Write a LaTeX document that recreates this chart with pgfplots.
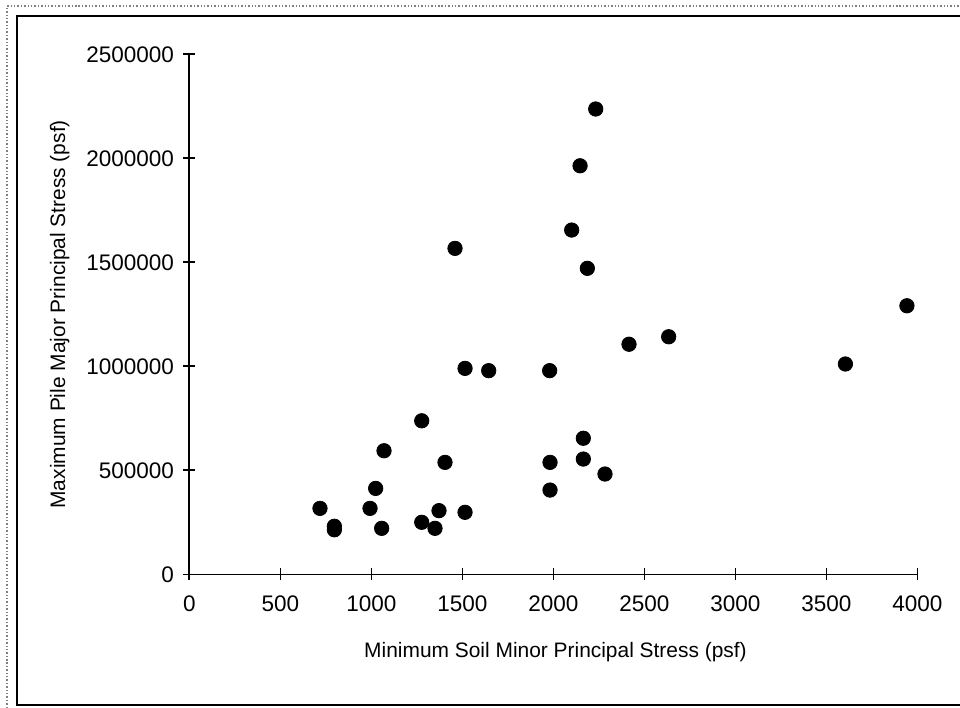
\documentclass[border=0pt]{standalone}
\usepackage{pgfplots}
\pgfplotsset{compat=1.18}
\usepackage{fontspec}
\setmainfont{Liberation Sans}
\begin{document}
\fontsize{10.5pt}{12pt}\selectfont
\begin{tikzpicture}
\path[use as bounding box] (0,0) rectangle (480bp,354bp);
% frame
\draw[line width=1bp] (479.9bp,346bp) -- (8.25bp,346bp) -- (8.25bp,1.5bp) -- (479.9bp,1.5bp);
\draw[line width=0.7bp, gray, densely dotted] (3.5bp,0bp) -- (3.5bp,351bp) -- (480bp,351bp);
\begin{axis}[
  at={(94.65bp,66.85bp)}, anchor=south west,
  scale only axis, width=364bp, height=260bp,
  xmin=0, xmax=4000, ymin=0, ymax=2500000,
  axis lines*=left,
  axis line style={line width=0.8bp},
  tick align=center,
  major tick length=6bp,
  tick style={line width=0.8bp, black},
  xtick={0,500,...,4000},
  ytick={0,500000,...,2500000},
  scaled x ticks=false, scaled y ticks=false,
  /pgf/number format/assume math mode=true,
  xticklabel style={/pgf/number format/fixed, /pgf/number format/set thousands separator={}, yshift=-4bp},
  yticklabel style={/pgf/number format/fixed, /pgf/number format/set thousands separator={}, xshift=-1bp},
  tick label style={font=\fontsize{11.3pt}{13pt}\selectfont},
  label style={font=\fontsize{10.5pt}{12pt}\selectfont},
  xlabel={Minimum Soil Minor Principal Stress (psf)},
  ylabel={Maximum Pile Major Principal Stress (psf)},
  xlabel style={at={(axis description cs:0.503,-0.149)}, anchor=center},
  ylabel style={at={(axis description cs:-0.178,0.5)}, anchor=center, rotate=0},
  clip=false,
]
\addplot[only marks, mark=*, mark size=3.6bp, black] coordinates {
(718,317000) (797,231000) (797,214000) (993,317000) (1024,413000)
(1070,594000) (1057,221000) (1277,738000) (1277,250000) (1372,306000)
(1350,221000) (1405,538000) (1515,298000) (1982,538000) (1982,405000)
(2165,654000) (2165,554000) (2284,482000) (2233,2237000) (2147,1964000)
(2101,1655000) (2187,1471000) (2416,1106000) (2634,1142000) (1980,979000)
(3943,1291000) (3605,1011000) (1460,1567000) (1515,990000) (1645,979000)
};
\end{axis}
\end{tikzpicture}
\end{document}
